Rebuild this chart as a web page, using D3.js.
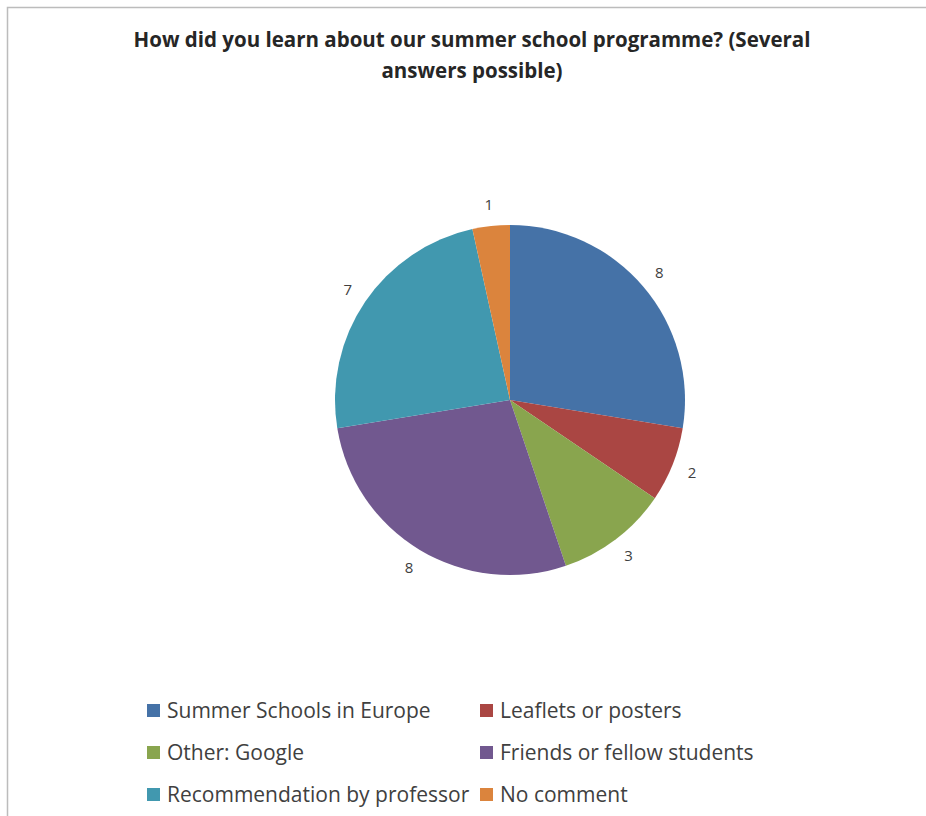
<!DOCTYPE html>
<html>
<head>
<meta charset="utf-8">
<script src="https://cdn.jsdelivr.net/npm/d3@7"></script>
<style>
  body { margin: 0; background: #fff; }
  svg { display: block; font-family: "Open Sans", Lato, sans-serif; }
</style>
</head>
<body>
<div id="chart"></div>
<script>
// survey answers, clockwise from 12 o'clock
const categories = ['Summer Schools in Europe', 'Leaflets or posters', 'Other: Google',
    'Friends or fellow students', 'Recommendation by professor', 'No comment'];
const counts = [8, 2, 3, 8, 7, 1];
const colors = ['#4572A7', '#AA4643', '#89A54E', '#71588F', '#4198AF', '#DB843D'];
const titleLines = ['How did you learn about our summer school programme? (Several', 'answers possible)'];

const width = 926, height = 816;
const cx = 510, cy = 400, radius = 175;

const svg = d3.select('#chart').append('svg')
    .attr('width', width)
    .attr('height', height);

// chart area border (runs off the right and bottom of the picture)
svg.append('rect')
    .attr('x', 7.5).attr('y', 7.5)
    .attr('width', width + 20).attr('height', height + 20)
    .attr('fill', '#fff')
    .attr('stroke', '#bcbcbc')
    .attr('stroke-width', 1.5);

// title
svg.append('g').selectAll('text')
    .data(titleLines)
    .join('text')
    .attr('x', 472)
    .attr('y', (d, i) => 47 + i * 31)
    .attr('text-anchor', 'middle')
    .attr('font-size', 20.5)
    .attr('font-weight', 'bold')
    .attr('fill', '#262626')
    .text(d => d);

const pie = d3.pie().sort(null).value(d => d);
const arcs = pie(counts);
const arc = d3.arc().innerRadius(0).outerRadius(radius);
const labelArc = d3.arc().innerRadius(196).outerRadius(196);

const pieG = svg.append('g').attr('transform', `translate(${cx},${cy})`);

pieG.selectAll('path')
    .data(arcs)
    .join('path')
    .attr('d', arc)
    .attr('fill', (d, i) => colors[i]);

// data labels outside each slice
pieG.selectAll('text')
    .data(arcs)
    .join('text')
    .attr('transform', d => `translate(${labelArc.centroid(d)})`)
    .attr('text-anchor', 'middle')
    .attr('dy', '0.35em')
    .attr('font-size', 15)
    .attr('fill', '#404040')
    .text(d => d.data);

// legend, two columns
const legend = svg.append('g');
const item = legend.selectAll('g')
    .data(categories)
    .join('g')
    .attr('transform', (d, i) => `translate(${i % 2 === 0 ? 147 : 480},${711 + Math.floor(i / 2) * 42})`);

item.append('rect')
    .attr('x', 0).attr('y', -7)
    .attr('width', 13).attr('height', 13)
    .attr('fill', (d, i) => colors[i]);

item.append('text')
    .attr('x', 20)
    .attr('dy', '0.35em')
    .attr('font-size', 21)
    .attr('fill', '#404040')
    .text(d => d);
</script>
</body>
</html>
